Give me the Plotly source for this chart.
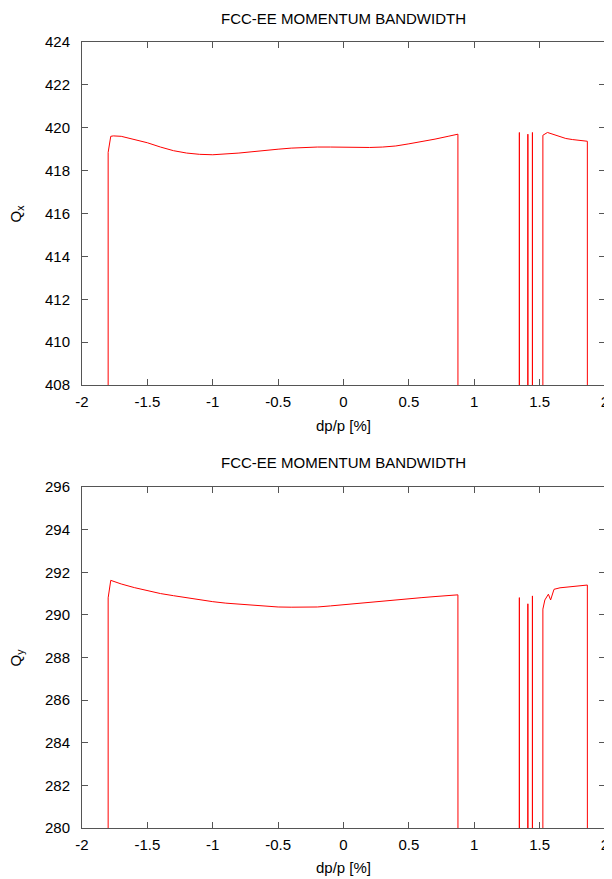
import plotly.graph_objects as go

# ---------------- data ----------------
title_text = "FCC-EE MOMENTUM BANDWIDTH"
x_title = "dp/p [%]"

x_tickvals = [-2, -1.5, -1, -0.5, 0, 0.5, 1, 1.5, 2]
x_ticktext = ["-2", "-1.5", "-1", "-0.5", "0", "0.5", "1", "1.5", "2"]

qx_tickvals = [408, 410, 412, 414, 416, 418, 420, 422, 424]
qy_tickvals = [280, 282, 284, 286, 288, 290, 292, 294, 296]

# horizontal tune (0 = particle lost)
qx_dp = [-1.801, -1.800, -1.780, -1.760, -1.700, -1.600, -1.500, -1.400, -1.300,
         -1.200, -1.100, -1.000, -0.900, -0.800, -0.700, -0.600, -0.500, -0.400,
         -0.300, -0.200, -0.100, 0.000, 0.100, 0.200, 0.300, 0.400, 0.500, 0.600,
         0.700, 0.800, 0.875, 0.885, 1.340, 1.345, 1.350, 1.405, 1.410, 1.415,
         1.440, 1.445, 1.450, 1.520, 1.525, 1.560, 1.600, 1.650, 1.700, 1.750,
         1.800, 1.865, 1.870]
qx_val = [0, 418.85, 419.60, 419.62, 419.60, 419.45, 419.30, 419.10, 418.93,
          418.82, 418.76, 418.74, 418.77, 418.82, 418.88, 418.95, 419.00, 419.05,
          419.08, 419.10, 419.10, 419.09, 419.08, 419.08, 419.10, 419.15, 419.25, 419.35,
          419.47, 419.60, 419.70, 0, 0, 419.78, 0, 0, 419.70, 0,
          0, 419.78, 0, 0, 419.65, 419.78, 419.70, 419.60, 419.50, 419.45,
          419.42, 419.37, 0]

# vertical tune (0 = particle lost)
qy_dp = [-1.801, -1.800, -1.780, -1.700, -1.600, -1.500, -1.400, -1.300, -1.200,
         -1.100, -1.000, -0.900, -0.800, -0.700, -0.600, -0.500, -0.400, -0.300,
         -0.200, -0.100, 0.000, 0.100, 0.200, 0.300, 0.400, 0.500, 0.600, 0.700,
         0.800, 0.875, 0.885, 1.340, 1.345, 1.350, 1.405, 1.410, 1.415, 1.440,
         1.445, 1.450, 1.520, 1.525, 1.540, 1.567, 1.584, 1.610, 1.656, 1.700,
         1.750, 1.800, 1.865, 1.870]
qy_val = [0, 290.80, 291.62, 291.45, 291.28, 291.13, 291.00, 290.90, 290.80,
          290.70, 290.62, 290.55, 290.50, 290.46, 290.40, 290.37, 290.36, 290.36,
          290.37, 290.42, 290.48, 290.54, 290.60, 290.65, 290.70, 290.75, 290.81, 290.86,
          290.90, 290.94, 0, 0, 290.81, 0, 0, 290.52, 0, 0,
          290.89, 0, 0, 290.27, 290.70, 290.97, 290.70, 291.20, 291.27, 291.30,
          291.33, 291.36, 291.40, 0]

# ---------------- figure ----------------
# the page body has an 8px default margin, so the figure is 8px smaller
OFF = 8
W, H = 612 - OFF, 879 - OFF
FONT = "Liberation Sans, Arial, sans-serif"
AX = "#555555"
FS = 15


def px(x):  # page x -> paper fraction
    return (x - OFF) / W


def py(y):  # page y -> paper fraction
    return 1 - (y - OFF) / H


fig = go.Figure()
fig.add_trace(go.Scatter(x=qx_dp, y=qx_val, mode="lines",
                         line=dict(color="#ff0000", width=1),
                         xaxis="x", yaxis="y", showlegend=False))
fig.add_trace(go.Scatter(x=qy_dp, y=qy_val, mode="lines",
                         line=dict(color="#ff0000", width=1),
                         xaxis="x2", yaxis="y2", showlegend=False))

x_dom = [px(82), px(605)]
top_dom = [py(385), py(42)]
bot_dom = [py(828), py(487)]

common_x = dict(range=[-2, 2], tickvals=x_tickvals, ticktext=x_ticktext,
                ticks="inside", ticklen=6, tickcolor=AX, showline=True,
                linecolor=AX, linewidth=1, mirror="allticks", showgrid=False,
                zeroline=False, ticklabelstandoff=3, domain=x_dom,
                automargin=False, ticklabeloverflow="allow",
                tickfont=dict(size=FS, color="#000000"))
common_y = dict(ticks="inside", ticklen=6, tickcolor=AX, showline=True,
                linecolor=AX, linewidth=1, mirror="allticks", showgrid=False,
                zeroline=False, ticklabelstandoff=8, automargin=False,
                ticklabeloverflow="allow",
                tickfont=dict(size=FS, color="#000000"))

fig.update_layout(
    template="none",
    width=W, height=H,
    margin=dict(l=0, r=0, t=0, b=0),
    paper_bgcolor="white", plot_bgcolor="white",
    font=dict(family=FONT, size=FS, color="#000000"),
    xaxis=dict(anchor="y", **common_x),
    yaxis=dict(anchor="x", domain=top_dom, range=[408, 424],
               tickvals=qx_tickvals, **common_y),
    xaxis2=dict(anchor="y2", **common_x),
    yaxis2=dict(anchor="x2", domain=bot_dom, range=[280, 296],
                tickvals=qy_tickvals, **common_y),
)

cx = px((82 + 605) / 2)
annots = [
    (cx, py(18), title_text, 0),
    (cx, py(425), x_title, 0),
    (px(16), py(213.5), "Q<sub>x</sub>", -90),
    (cx, py(463), title_text, 0),
    (cx, py(867), x_title, 0),
    (px(16), py(657.5), "Q<sub>y</sub>", -90),
]
for ax_, ay_, txt, ang in annots:
    fig.add_annotation(x=ax_, y=ay_, xref="paper", yref="paper", text=txt,
                       showarrow=False, textangle=ang, xanchor="center",
                       yanchor="middle", font=dict(size=FS, family=FONT, color="#000000"))

fig.write_html("out.html")
